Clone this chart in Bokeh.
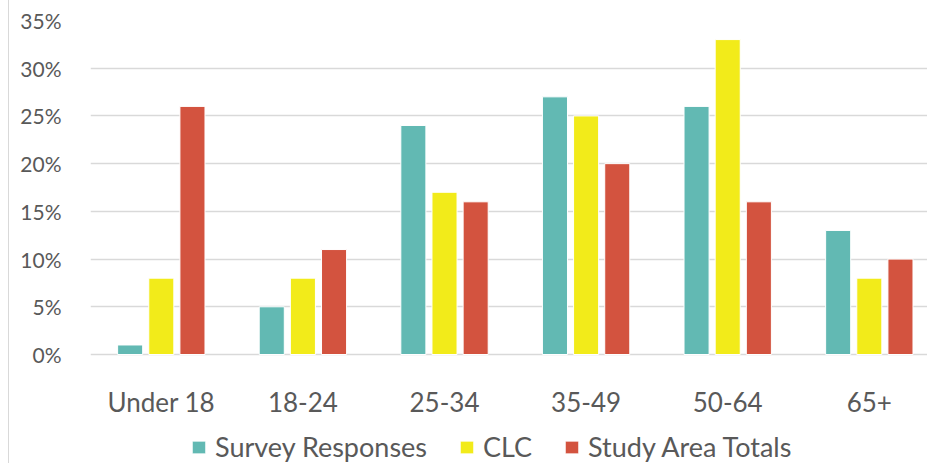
from bokeh.plotting import figure
from bokeh.models import Range1d, PrintfTickFormatter, Legend, LegendItem, ColumnDataSource
from bokeh.transform import dodge
from bokeh.core.properties import value
from bokeh.embed import file_html
from bokeh.resources import INLINE

categories = ["Under 18", "18-24", "25-34", "35-49", "50-64", "65+"]
survey = [1, 5, 24, 27, 26, 13]
clc = [8, 8, 17, 25, 33, 8]
study = [26, 11, 16, 20, 16, 10]
series_names = ["Survey Responses", "CLC", "Study Area Totals"]
colors = ["#62B9B3", "#F2EB1A", "#D3533F"]
y_ticks = [0, 5, 10, 15, 20, 25, 30, 35]

FONT = "Lato"
TXT = "#595959"

xpos = [i + 0.5 for i in range(len(categories))]
src = ColumnDataSource(dict(x=xpos, survey=survey, clc=clc, study=study,
                            cat=categories, base=[0] * len(categories)))

p = figure(x_range=Range1d(0, 5.918), y_range=Range1d(-11.42, 35),
           width=919, height=463, output_backend="svg", toolbar_location=None,
           min_border_left=81, min_border_right=0, min_border_top=20, min_border_bottom=0)
p.styles = {"margin-left": "8px", "border-left": "1px solid #D9D9D9"}

renderers = []
for key, off, col in zip(["survey", "clc", "study"], [-0.22, 0.0, 0.22], colors):
    r = p.vbar(x=dodge("x", off), top=key, width=0.177, source=src,
               fill_color=col, line_color="white", line_width=1)
    renderers.append(r)

# category labels under the zero line
p.text(x="x", y="base", text="cat", source=src, text_align="center", text_baseline="alphabetic",
       y_offset=47, text_font=value(FONT), text_font_size="26px", text_color=TXT)

p.outline_line_color = None
p.xaxis.visible = False
p.xgrid.grid_line_color = None
p.ygrid.grid_line_color = "#D9D9D9"
p.ygrid.grid_line_width = 1.5
p.yaxis.ticker = y_ticks
p.yaxis.formatter = PrintfTickFormatter(format="%d%%")
ax = p.yaxis[0]
ax.axis_line_color = None
ax.major_tick_line_color = None
ax.minor_tick_line_color = None
ax.major_label_text_font = FONT
ax.major_label_text_color = TXT
ax.major_label_text_font_size = "21px"
ax.major_label_standoff = 23

legend = Legend(items=[LegendItem(label=n, renderers=[r]) for n, r in zip(series_names, renderers)],
                orientation="horizontal", location=(100, 0),
                label_text_font=FONT, label_text_font_size="27px", label_text_color=TXT,
                glyph_width=17, glyph_height=16, spacing=31, label_standoff=8,
                border_line_color=None, background_fill_alpha=0, margin=0, padding=0)
p.add_layout(legend, "center")

open("out.html", "w").write(file_html(p, INLINE))
